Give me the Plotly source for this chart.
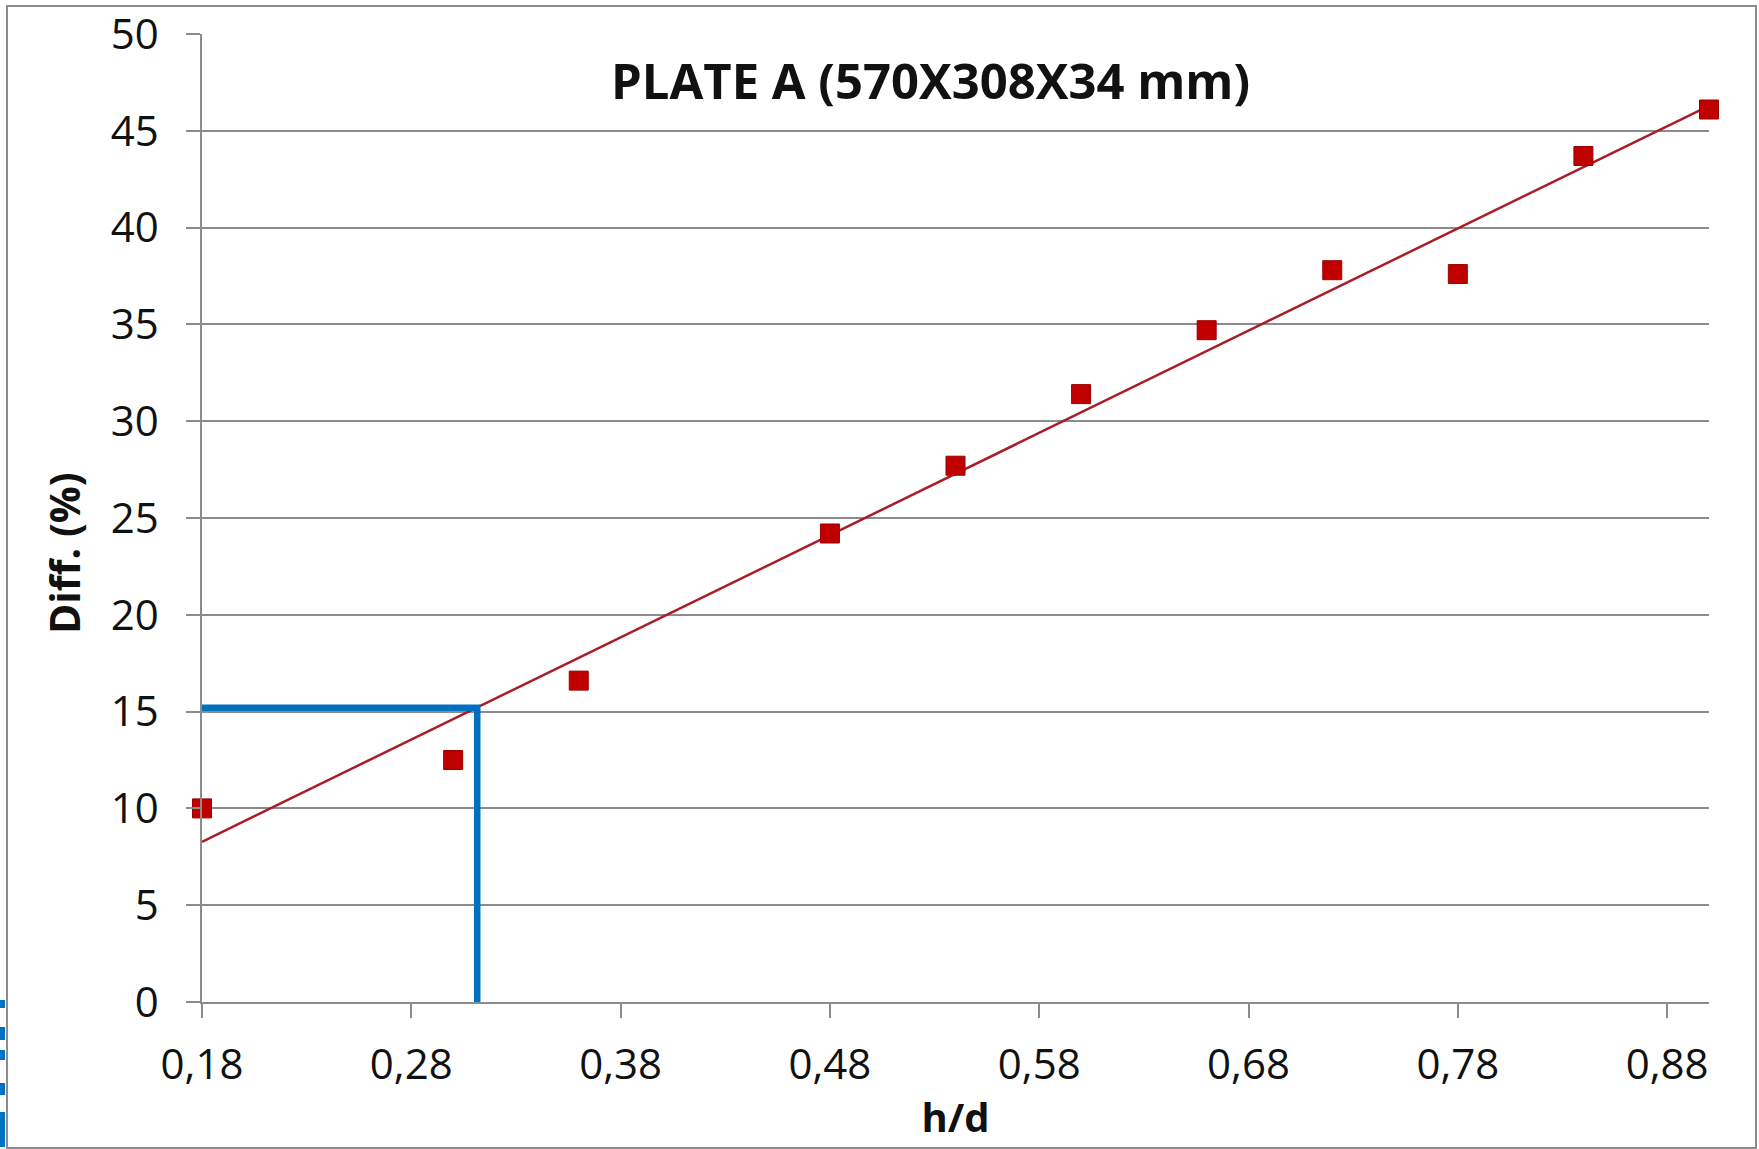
import numpy as np
import plotly.graph_objects as go

# Data
hd = [0.18, 0.30, 0.36, 0.48, 0.54, 0.60, 0.66, 0.72, 0.78, 0.84, 0.90]
diff = [10.0, 12.5, 16.6, 24.2, 27.7, 31.4, 34.7, 37.8, 37.6, 43.7, 46.1]

# Blue guide lines (reading of h/d at Diff = 15 %)
guide_x = [0.18, 0.3115, 0.3115]
guide_y = [15.2, 15.2, -0.4]

y_ticks = list(range(0, 51, 5))
x_ticks = [0.18, 0.28, 0.38, 0.48, 0.58, 0.68, 0.78, 0.88]

title_text = "PLATE A (570X308X34 mm)"
x_title = "h/d"
y_title = "Diff. (%)"

# Linear trendline computed from the data
slope, intercept = np.polyfit(hd, diff, 1)
trend_x = [0.18, 0.90]
trend_y = [slope * v + intercept for v in trend_x]

W, H = 1759, 1149
L, R, T, B = 202, 50, 34, 147

fig = go.Figure()

fig.add_trace(go.Scatter(
    x=trend_x, y=trend_y, mode="lines",
    line=dict(color="#A81E28", width=2.5),
    showlegend=False, hoverinfo="skip"))

fig.add_trace(go.Scatter(
    x=hd, y=diff, mode="markers",
    marker=dict(symbol="square", size=19, color="#C00000",
                line=dict(color="#9A0000", width=1)),
    showlegend=False, cliponaxis=False))

fig.add_trace(go.Scatter(
    x=guide_x, y=guide_y, mode="lines",
    line=dict(color="#0070C0", width=6.5),
    showlegend=False, cliponaxis=False, hoverinfo="skip"))

font_family = "Open Sans"
TICK_SIZE = 42

fig.update_layout(
    width=W, height=H,
    margin=dict(l=L, r=R, t=T, b=B),
    paper_bgcolor="white", plot_bgcolor="white",
    separators=",.",
    font=dict(family=font_family, color="#111111"),
    xaxis=dict(
        range=[0.18, 0.90],
        automargin=False,
        tickmode="array", tickvals=x_ticks,
        tickformat=".2f",
        showgrid=False, zeroline=False,
        showline=True, linecolor="#8c8c8c", linewidth=1.5,
        ticks="outside", ticklen=14, tickcolor="#8c8c8c", tickwidth=1.5,
        tickfont=dict(size=TICK_SIZE, family=font_family, color="#111111"),
        ticklabelstandoff=11,
        title=dict(text="<b>" + x_title + "</b>",
                   font=dict(size=40, family=font_family, color="#111111"),
                   standoff=14),
    ),
    yaxis=dict(
        range=[0, 50],
        automargin=False,
        tickmode="array", tickvals=y_ticks,
        showgrid=True, gridcolor="#8c8c8c", gridwidth=1.5,
        zeroline=False,
        showline=True, linecolor="#8c8c8c", linewidth=1.5,
        ticks="outside", ticklen=14, tickcolor="#8c8c8c", tickwidth=1.5,
        tickfont=dict(size=TICK_SIZE, family=font_family, color="#111111"),
        ticklabelstandoff=19,
    ),
)

pw = W - L - R
ph = H - T - B
def px_x(p):
    return (p - L) / pw
def px_y(p):
    return (H - B - p) / ph

# Chart title
fig.add_annotation(
    text="<b>" + title_text + "</b>",
    xref="paper", yref="paper", x=px_x(930), y=px_y(80),
    xanchor="center", yanchor="middle", showarrow=False,
    font=dict(size=49, family=font_family, color="#111111"))

# Y axis title (placed off-centre as in the original)
fig.add_annotation(
    text="<b>" + y_title + "</b>",
    xref="paper", yref="paper", x=px_x(64), y=px_y(553),
    xanchor="center", yanchor="middle", showarrow=False, textangle=-90,
    font=dict(size=41, family=font_family, color="#111111"))

# Outer chart border
fig.add_shape(type="rect", xref="paper", yref="paper",
              x0=px_x(7), x1=px_x(1756), y0=px_y(1148), y1=px_y(6),
              line=dict(color="#8c8c8c", width=2), layer="below")

# Clipped blue fragments at the left edge
for y0p, y1p in [(1000, 1008), (1027, 1040), (1050, 1060), (1083, 1095), (1112, 1147)]:
    fig.add_shape(type="rect", xref="paper", yref="paper",
                  x0=px_x(0), x1=px_x(5), y0=px_y(y1p), y1=px_y(y0p),
                  line=dict(width=0), fillcolor="#0070C0")

fig.write_html("out.html")
